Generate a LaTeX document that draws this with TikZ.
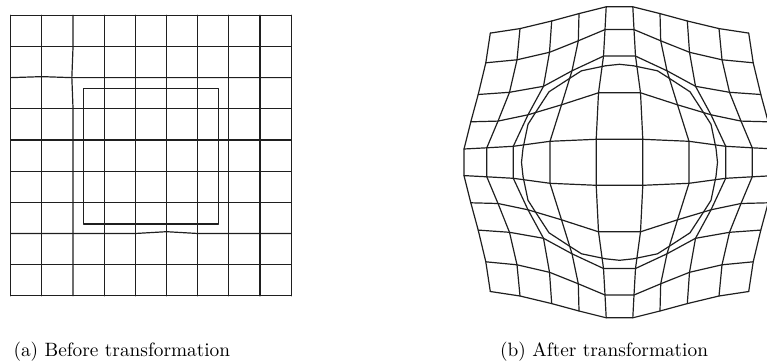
\documentclass[tikz,border=0pt]{standalone}
\usepackage{graphicx}
\def\setQ#1#2#3#4{\expandafter\def\csname Qx#1#2\endcsname{#3}\expandafter\def\csname Qy#1#2\endcsname{#4}}
\setQ00{-129.2}{-129.2}
\setQ10{-99.5}{-133.7}  \setQ01{-133.7}{-99.5}
\setQ20{-67.8}{-141.3}  \setQ02{-141.3}{-67.8}
\setQ30{-40.5}{-148.7}  \setQ03{-148.7}{-40.5}
\setQ40{-13.3}{-155.5}  \setQ04{-155.5}{-13.3}
\setQ11{-102.5}{-102.5}
\setQ21{-70}{-110}      \setQ12{-110}{-70}
\setQ31{-41.2}{-121.5}  \setQ13{-121.5}{-41.2}
\setQ41{-14.5}{-132.7}  \setQ14{-132.7}{-14.5}
\setQ22{-76}{-76}
\setQ32{-47.5}{-91.5}   \setQ23{-91.5}{-47.5}
\setQ42{-16}{-106.2}    \setQ24{-106.2}{-16}
\setQ33{-58}{-57.5}
\setQ43{-21}{-69.5}     \setQ34{-69.5}{-21}
\setQ44{-23.3}{-23}
\tikzset{gridline/.style={line width=1.2pt, draw=black!88, line join=round, line cap=round},
  caption/.style={inner sep=0pt, anchor=base west}}
\begin{document}
\begin{tikzpicture}[x=1pt,y=-1pt]
\useasboundingbox (0,0) rectangle (767,363);
% ---------- left grid ----------
\foreach \i in {0,...,9}{\foreach \j in {0,...,9}{
  \coordinate (l-\i-\j) at ({10.7+31.17*\i},{15.3+31.17*\j});
}}
\coordinate (l-1-2) at ({10.7+31.17*1},{15.3+31.17*2-1.0});
\coordinate (l-2-2) at ({10.7+31.17*2-1.2},{15.3+31.17*2});
\coordinate (l-5-7) at ({10.7+31.17*5},{15.3+31.17*7-1.8});
\foreach \j in {0,...,9}{\draw[gridline] (l-0-\j) \foreach \i in {1,...,9}{ -- (l-\i-\j)};}
\foreach \i in {0,...,9}{\draw[gridline] (l-\i-0) \foreach \j in {1,...,9}{ -- (l-\i-\j)};}
\draw[gridline] (83.4,88.6) rectangle (218.8,224);
% ---------- right warped grid ----------
\begin{scope}
\clip (0,0) rectangle (767,363);
\foreach \i in {0,...,9}{\foreach \j in {0,...,9}{
  \pgfmathtruncatemacro\ii{min(\i,9-\i)}
  \pgfmathtruncatemacro\jj{min(\j,9-\j)}
  \pgfmathsetmacro\sx{\i<5 ? 1 : -1}
  \pgfmathsetmacro\sy{\j<5 ? 1 : -1}
  \edef\qx{\csname Qx\ii\jj\endcsname}
  \edef\qy{\csname Qy\ii\jj\endcsname}
  \coordinate (r-\i-\j) at ({619.5+\sx*\qx},{162.3+\sy*\qy});
}}
\foreach \j in {0,...,9}{\draw[gridline] (r-0-\j) \foreach \i in {1,...,9}{ -- (r-\i-\j)};}
\foreach \i in {0,...,9}{\draw[gridline] (r-\i-0) \foreach \j in {1,...,9}{ -- (r-\i-\j)};}
\begin{scope}[shift={(619.5,162.3)}]
\draw[gridline] (0,-98) -- (-14,-96.5) -- (-38,-91.5) -- (-49,-84.5) -- (-70.5,-70.5) -- (-84.5,-49) -- (-91.5,-38) -- (-96.5,-14) -- (-98,0)
  -- (-96.5,14) -- (-91.5,38) -- (-84.5,49) -- (-70.5,70.5) -- (-49,84.5) -- (-38,91.5) -- (-14,96.5) -- (0,98)
  -- (14,96.5) -- (38,91.5) -- (49,84.5) -- (70.5,70.5) -- (84.5,49) -- (91.5,38) -- (96.5,14) -- (98,0)
  -- (96.5,-14) -- (91.5,-38) -- (84.5,-49) -- (70.5,-70.5) -- (49,-84.5) -- (38,-91.5) -- (14,-96.5) -- cycle;
\end{scope}
\end{scope}
% ---------- captions ----------
\node[caption] (capa) at (13.3,356.5) {\scalebox{1.93}{(a) Before transformation}};
\node[caption] (capb) at (500,356.5) {\scalebox{1.93}{(b) After transformation}};
\end{tikzpicture}
\end{document}
